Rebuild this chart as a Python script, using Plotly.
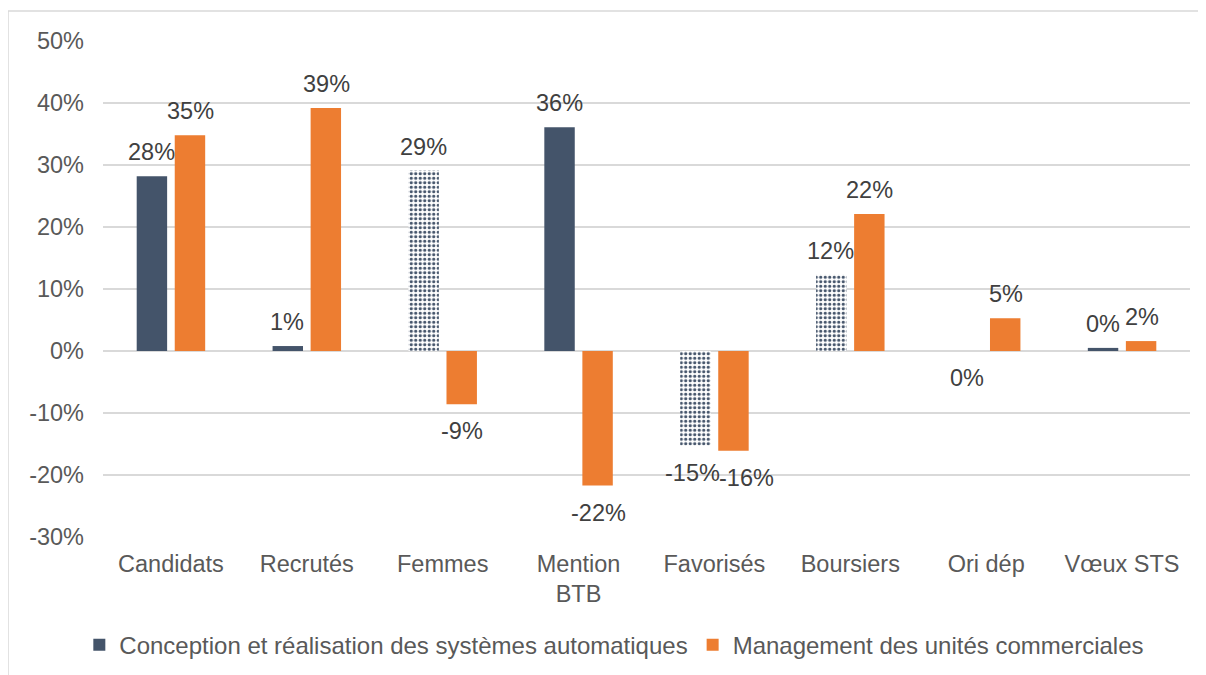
import math
import plotly.graph_objects as go

categories = ["Candidats", "Recrutés", "Femmes", "Mention<br>BTB", "Favorisés", "Boursiers", "Ori dép", "Vœux STS"]
series1_name = "Conception et réalisation des systèmes automatiques"
series2_name = "Management des unités commerciales"
series1 = [0.282, 0.008, 0.291, 0.361, -0.153, 0.123, -0.0, 0.005]
series2 = [0.348, 0.392, -0.086, -0.217, -0.161, 0.221, 0.053, 0.016]
series1_dotted = [False, False, True, False, True, True, False, False]
ytick_vals = [-0.3, -0.2, -0.1, 0.0, 0.1, 0.2, 0.3, 0.4, 0.5]
ytick_text = ["-30%", "-20%", "-10%", "0%", "10%", "20%", "30%", "40%", "50%"]
# small horizontal nudges of the data labels (px), as in the reference
series1_label_nudge = [0, 0, 0, 0, -2, 0, 0, 0]
series2_label_nudge = [0, 0, 0, 0, 13, 0, 0, 0]

DARK = "#44546a"
ORANGE = "#ed7d31"
FONT = "Liberation Sans, Arial, sans-serif"
FS = 23.5

def label(v):
    return f"{int(round(v*100))}%"

def negative(v):
    return math.copysign(1.0, v) < 0

fig = go.Figure()
fig.add_trace(go.Bar(
    x=categories, y=series1, name=series1_name,
    marker=dict(
        color=DARK,
        line=dict(width=0),
        pattern=dict(
            shape=["." if d else "" for d in series1_dotted],
            fgcolor=DARK, bgcolor="white", size=4.5, solidity=0.4, fillmode="replace",
        ),
    ),
))
fig.add_trace(go.Bar(
    x=categories, y=series2, name=series2_name,
    marker=dict(color=ORANGE, line=dict(width=0)),
))

annotations = []
for vals, nudges, dx in ((series1, series1_label_nudge, -19.5), (series2, series2_label_nudge, 19.5)):
    for c, v, n in zip(categories, vals, nudges):
        annotations.append(dict(
            x=c, y=v, xref="x", yref="y", text=label(v), showarrow=False,
            xshift=dx + n, yshift=-27 if negative(v) else 24, yanchor="middle", xanchor="center",
            font=dict(size=FS, color="#404040", family=FONT),
        ))

fig.update_layout(
    width=1206, height=675,
    margin=dict(l=95, r=24, t=33, b=146),
    paper_bgcolor="white", plot_bgcolor="white",
    font=dict(family=FONT, size=FS, color="#595959"),
    barmode="group", bargap=0.44, bargroupgap=0.2,
    showlegend=True,
    legend=dict(orientation="h", x=0.4704, xanchor="center", y=-0.218, yanchor="middle",
                font=dict(size=24, color="#595959", family=FONT), itemwidth=30,
                traceorder="normal"),
    yaxis=dict(range=[-0.3, 0.5], tickvals=ytick_vals, ticktext=ytick_text, showgrid=True,
               gridcolor="#d9d9d9", gridwidth=1.5, zeroline=True, zerolinecolor="#d9d9d9",
               zerolinewidth=1.5, showline=False, ticks="", ticklabelstandoff=18,
               tickfont=dict(size=FS, color="#595959")),
    xaxis=dict(showline=False, ticks="", tickfont=dict(size=FS, color="#595959"),
               tickangle=0, ticklabelstandoff=10),
    annotations=annotations,
    shapes=[dict(type="rect", xref="paper", yref="paper",
                 x0=(0 - 95) / 1087, x1=(1215 - 95) / 1087,
                 y0=(529 - 700) / 496, y1=(529 - 3) / 496,
                 line=dict(color="#d9d9d9", width=1.5), fillcolor="rgba(0,0,0,0)", layer="below")],
)

fig.write_html("out.html")
